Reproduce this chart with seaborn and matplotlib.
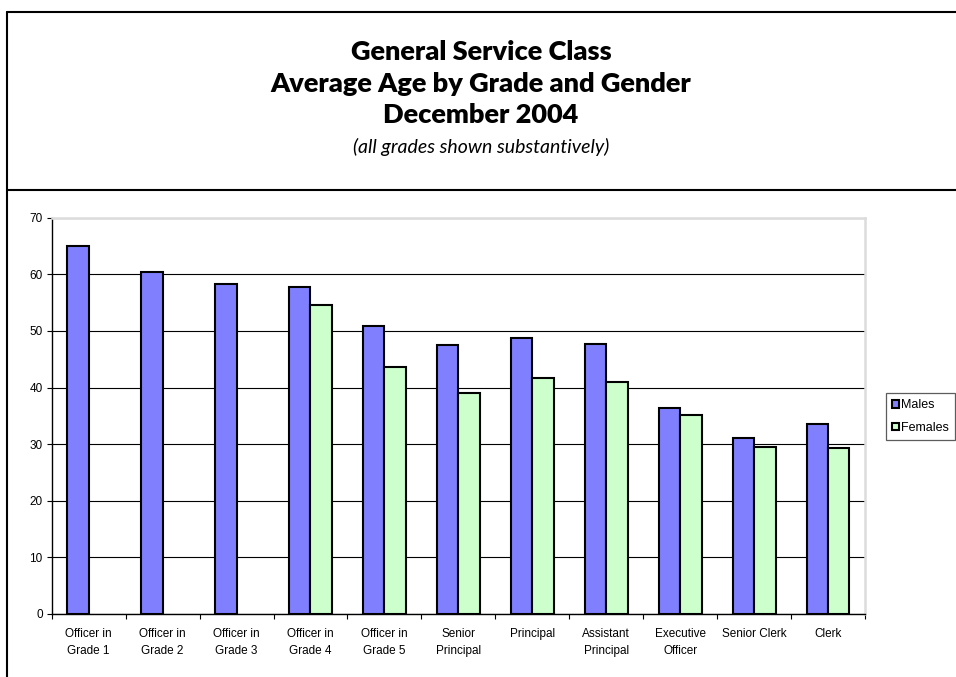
import numpy as np
import pandas as pd
import matplotlib
matplotlib.use("Agg")
import matplotlib.pyplot as plt
import seaborn as sns
from matplotlib.lines import Line2D
from matplotlib.patches import Patch
from matplotlib.ticker import FixedLocator

# ---- data ----
grades = ["Officer in\nGrade 1", "Officer in\nGrade 2", "Officer in\nGrade 3",
          "Officer in\nGrade 4", "Officer in\nGrade 5", "Senior\nPrincipal",
          "Principal", "Assistant\nPrincipal", "Executive\nOfficer",
          "Senior Clerk", "Clerk"]
males = [65.0, 60.4, 58.3, 57.8, 50.9, 47.5, 48.7, 47.7, 36.4, 31.0, 33.6]
females = [np.nan, np.nan, np.nan, 54.5, 43.7, 39.0, 41.7, 40.9, 35.1, 29.5, 29.4]
genders = ["Males", "Females"]
colors = ["#8080FF", "#CCFFCC"]
y_ticks = [0, 10, 20, 30, 40, 50, 60, 70]
title_lines = ["General Service Class", "Average Age by Grade and Gender", "December 2004"]
subtitle = "(all grades shown substantively)"

sns.set_theme(style="white")
plt.rcParams['font.family'] = ['Liberation Sans', 'DejaVu Sans']
for k in ["text.color", "axes.labelcolor", "xtick.color", "ytick.color"]:
    plt.rcParams[k] = "black"

W, H = 956, 677
fig = plt.figure(figsize=(W / 100, H / 100), dpi=100)
fig.patch.set_facecolor("white")

ax = fig.add_axes([51.7 / W, 1 - 614 / H, (865 - 51.7) / W, (614 - 217.7) / H])

df = pd.DataFrame({
    "Grade": grades * 2,
    "Gender": ["Males"] * len(grades) + ["Females"] * len(grades),
    "Age": males + females,
}).dropna()

sns.barplot(data=df, x="Grade", y="Age", hue="Gender", order=grades,
            hue_order=genders, palette=dict(zip(genders, colors)),
            width=0.58, gap=0, edgecolor="black", linewidth=1.5,
            errorbar=None, saturation=1, legend=False, ax=ax)

ax.set_xlim(-0.5, len(grades) - 0.5)
ax.set_ylim(0, 70)
ax.set_yticks(y_ticks)
ax.set_xlabel("")
ax.set_ylabel("")
ax.set_axisbelow(True)
ax.yaxis.grid(True, color="black", lw=0.8)
ax.xaxis.grid(False)
ax.set_facecolor("white")

for s in ["left", "bottom"]:
    ax.spines[s].set_color("black")
    ax.spines[s].set_linewidth(1.0)
for s in ["top", "right"]:
    ax.spines[s].set_color("#dcdcdc")
    ax.spines[s].set_linewidth(1.8)

ax.tick_params(axis="y", which="major", direction="out", length=3.5, width=0.8,
               color="black", labelcolor="black", labelsize=8.5, pad=3, left=True)
ax.tick_params(axis="x", which="major", length=0, labelsize=8.5, pad=10,
               labelcolor="black")
ax.xaxis.set_minor_locator(FixedLocator(np.arange(-0.5, len(grades), 1.0)))
ax.tick_params(axis="x", which="minor", direction="out", length=3.5, width=0.8,
               color="black", bottom=True)
for lbl in ax.get_xticklabels():
    lbl.set_linespacing(1.55)
    lbl.set_verticalalignment("top")

# legend
handles = [Patch(facecolor=c, edgecolor="black", linewidth=1.5) for c in colors]
fig.legend(handles, genders, loc="upper left",
           bbox_to_anchor=(886 / W, 1 - 393 / H), borderaxespad=0,
           frameon=True, fancybox=False, edgecolor="#333333",
           fontsize=9, handlelength=0.55, handleheight=0.55,
           handletextpad=0.15, labelspacing=0.85, borderpad=0.5,
           labelcolor="black")
leg = fig.legends[0]
leg.get_frame().set_linewidth(0.9)

# frames
def fline(x0, y0, x1, y1):
    fig.add_artist(Line2D([x0 / W, x1 / W], [1 - y0 / H, 1 - y1 / H],
                          transform=fig.transFigure, color="black", lw=1.5))

fline(7, 11.5, W + 5, 11.5)
fline(7, 190, W + 5, 190)
fline(7, 11.5, 7, H + 5)

# titles
cx = 481 / W
for ln, yb in zip(title_lines, [60, 92, 123]):
    fig.text(cx, 1 - yb / H, ln, ha="center", va="baseline", color="black",
             fontsize=19.5, fontweight="heavy", family=["Lato", "DejaVu Sans"])
fig.text(cx, 1 - 153 / H, subtitle, ha="center", va="baseline", color="black",
         fontsize=14, style="italic", family=["Lato", "DejaVu Sans"])

fig.savefig("out.png", dpi=100, facecolor="white")
